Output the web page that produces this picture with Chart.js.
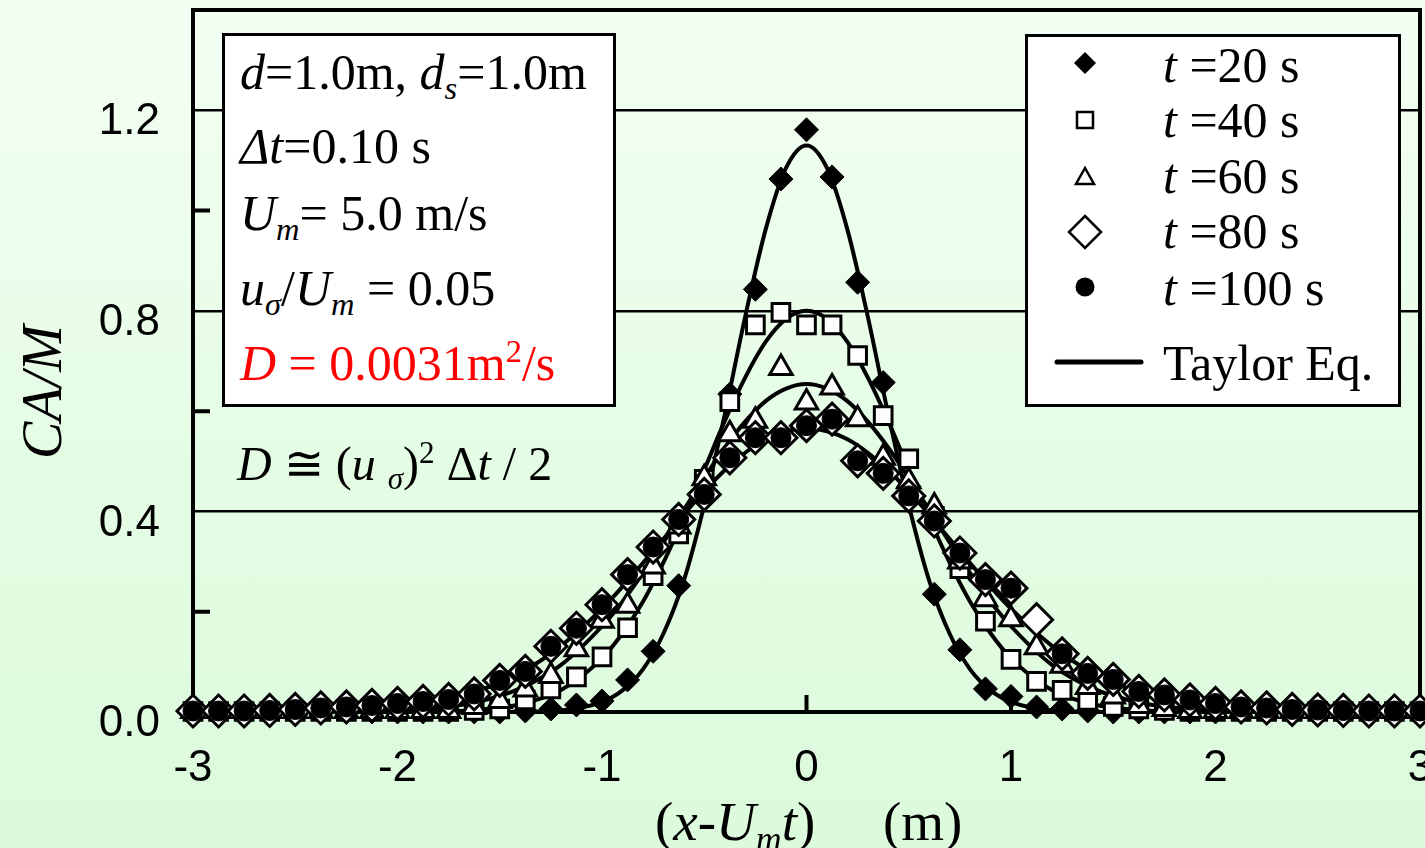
<!DOCTYPE html>
<html>
<head>
<meta charset="utf-8">
<script src="https://cdn.jsdelivr.net/npm/chart.js@4.4.1/dist/chart.umd.min.js"></script>
<style>
  html, body { margin: 0; padding: 0; }
  body {
    width: 1425px; height: 848px; overflow: hidden; position: relative;
    background: linear-gradient(to bottom, #f4fff4 0%, #e4fce4 55%, #dcfadc 100%);
    font-family: "Liberation Serif", "Times New Roman", serif;
  }
  #chart { position: absolute; left: 0; top: 0; }
  .box { position: absolute; background: #fff; border: 3px solid #000; box-sizing: border-box; }
  .t { position: absolute; font-size: 50px; line-height: 50px; white-space: nowrap; color: #000; }
  .t sub { font-size: 0.65em; line-height: 0; vertical-align: baseline; position: relative; top: 0.3em; }
  .t sup { font-size: 0.65em; line-height: 0; vertical-align: baseline; position: relative; top: -0.55em; }
  .red { color: #ff0000; }
  svg { position: absolute; }
</style>
</head>
<body>
<canvas id="chart" width="1425" height="848"></canvas>

<!-- parameter box -->
<div class="box" style="left:222px;top:33px;width:394px;height:374px;"></div>
<div class="t" style="left:240px;top:47px;"><i>d</i>=1.0m, <i>d<sub>s</sub></i>=1.0m</div>
<div class="t" style="left:240px;top:121px;"><i>Δt</i>=0.10 s</div>
<div class="t" style="left:240px;top:188px;"><i>U<sub>m</sub></i>= 5.0 m/s</div>
<div class="t" style="left:240px;top:263px;"><i>u<sub>σ</sub></i>/<i>U<sub>m</sub></i> = 0.05</div>
<div class="t red" style="left:240px;top:338px;"><i>D</i> = 0.0031m<sup>2</sup>/s</div>

<div class="t" style="left:237px;top:440px;font-size:48px;line-height:48px;"><i>D</i> ≅ (<i>u</i> <sub><i>σ</i></sub>)<sup>2</sup> Δ<i>t</i> / 2</div>

<!-- legend -->
<div class="box" style="left:1025px;top:34px;width:376px;height:373px;"></div>
<svg style="left:1025px;top:34px" width="376" height="373">
  <polygon points="60,18 71,29 60,40 49,29" fill="#000"/>
  <rect x="52" y="78" width="16" height="16" fill="#fff" stroke="#000" stroke-width="2.5"/>
  <polygon points="60,134 69,150 51,150" fill="#fff" stroke="#000" stroke-width="2.5"/>
  <polygon points="60,182 76,198 60,214 44,198" fill="#fff" stroke="#000" stroke-width="2.5"/>
  <circle cx="60" cy="253" r="9.5" fill="#000"/>
  <line x1="32" y1="328" x2="116" y2="328" stroke="#000" stroke-width="5" stroke-linecap="round"/>
</svg>
<div class="t" style="left:1163px;top:40px;"><i>t</i> =20 s</div>
<div class="t" style="left:1163px;top:95px;"><i>t</i> =40 s</div>
<div class="t" style="left:1163px;top:151px;"><i>t</i> =60 s</div>
<div class="t" style="left:1163px;top:206px;"><i>t</i> =80 s</div>
<div class="t" style="left:1163px;top:263px;"><i>t</i> =100 s</div>
<div class="t" style="left:1163px;top:338px;">Taylor Eq.</div>

<!-- x axis title -->
<div class="t" style="left:655px;top:794px;font-size:55px;line-height:55px;">(<i>x</i>-<i>U<sub>m</sub>t</i>)</div>
<div class="t" style="left:883px;top:794px;font-size:55px;line-height:55px;">(m)</div>

<script>
// measured positions (m)
const xPos = [-3, -2.875, -2.75, -2.625, -2.5, -2.375, -2.25, -2.125, -2, -1.875, -1.75, -1.625,
  -1.5, -1.375, -1.25, -1.125, -1, -0.875, -0.75, -0.625, -0.5, -0.375, -0.25, -0.125, 0,
  0.125, 0.25, 0.375, 0.5, 0.625, 0.75, 0.875, 1, 1.125, 1.25, 1.375, 1.5, 1.625, 1.75, 1.875,
  2, 2.125, 2.25, 2.375, 2.5, 2.625, 2.75, 2.875, 3];

// CA/M for each time
const t20 = [0, 0, 0, 0, 0, 0, 0, 0, 0, 0, 0, 0,
  0, 0.002, 0.006, 0.014, 0.022, 0.064, 0.121, 0.252, 0.44, 0.634, 0.843, 1.063, 1.161,
  1.067, 0.857, 0.657, 0.45, 0.235, 0.124, 0.046, 0.031, 0.010, 0.006, 0.002, 0, 0, 0, 0,
  0, 0, 0, 0, 0, 0, 0, 0, 0];
const t40 = [0.001, 0.001, 0.001, 0.001, 0.001, 0.001, 0.001, 0.001, 0.001, 0.001, 0.001, 0.003,
  0.006, 0.024, 0.046, 0.07, 0.11, 0.168, 0.272, 0.355, 0.464, 0.619, 0.772, 0.797, 0.772,
  0.772, 0.711, 0.591, 0.505, 0.39, 0.286, 0.181, 0.105, 0.061, 0.043, 0.023, 0.011, 0.006, 0.003, 0.001,
  0.001, 0.001, 0.001, 0.001, 0.001, 0.001, 0.001, 0.001, 0.001];
const t60 = [0.002, 0.002, 0.002, 0.002, 0.002, 0.002, 0.002, 0.002, 0.002, 0.002, 0.002, 0.01,
  0.022, 0.045, 0.072, 0.125, 0.182, 0.212, 0.29, 0.37, 0.466, 0.554, 0.581, 0.686, 0.617,
  0.647, 0.584, 0.507, 0.46, 0.41, 0.30, 0.225, 0.185, 0.129, 0.092, 0.05, 0.031, 0.012, 0.006, 0.002,
  0.002, 0.002, 0.002, 0.002, 0.002, 0.002, 0.002, 0.002, 0.002];
const t80 = [0.002, 0.002, 0.002, 0.003, 0.005, 0.008, 0.010, 0.013, 0.017, 0.021, 0.025, 0.036,
  0.063, 0.081, 0.131, 0.167, 0.214, 0.274, 0.329, 0.384, 0.434, 0.507, 0.547, 0.547, 0.571,
  0.584, 0.501, 0.476, 0.431, 0.381, 0.317, 0.264, 0.247, 0.184, 0.116, 0.077, 0.065, 0.041, 0.034, 0.024,
  0.017, 0.010, 0.008, 0.005, 0.004, 0.003, 0.002, 0.002, 0.002];
const t100 = [0.002, 0.002, 0.002, 0.003, 0.005, 0.008, 0.010, 0.013, 0.017, 0.021, 0.025, 0.036,
  0.063, 0.081, 0.131, 0.167, 0.214, 0.274, 0.329, 0.384, 0.434, 0.507, 0.547, 0.547, 0.571,
  0.584, 0.501, 0.476, 0.431, 0.381, 0.317, 0.264, 0.247, null, 0.116, 0.077, 0.065, 0.041, 0.034, 0.024,
  0.017, 0.010, 0.008, 0.005, 0.004, 0.003, 0.002, 0.002, 0.002];

// Taylor Eq. curves
const curveX = [-3, -2.5, -2.2, -2, -1.8, -1.6, -1.4, -1.2, -1, -0.9, -0.8, -0.7, -0.6, -0.5, -0.4,
  -0.3, -0.2, -0.1, 0, 0.1, 0.2, 0.3, 0.4, 0.5, 0.6, 0.7, 0.8, 0.9, 1, 1.2, 1.4, 1.6, 1.8, 2,
  2.2, 2.5, 3];
const taylor20 = [0, 0, 0, 0, 0, 0, 0.0004, 0.003, 0.020, 0.043, 0.085, 0.156, 0.262, 0.413, 0.593,
  0.788, 0.962, 1.085, 1.13, 1.085, 0.962, 0.788, 0.593, 0.413, 0.262, 0.156, 0.085, 0.043, 0.020, 0.003,
  0.0004, 0, 0, 0, 0, 0, 0];
const taylor40 = [0, 0, 0.0001, 0.0003, 0.0012, 0.0046, 0.0154, 0.044, 0.107, 0.157, 0.220, 0.298, 0.387, 0.483, 0.580,
  0.667, 0.738, 0.784, 0.80, 0.784, 0.738, 0.667, 0.580, 0.483, 0.387, 0.298, 0.220, 0.157, 0.107, 0.044,
  0.0154, 0.0046, 0.0012, 0.0003, 0.0001, 0, 0];
const taylor60 = [0, 0.0002, 0.001, 0.003, 0.0084, 0.021, 0.047, 0.094, 0.171, 0.220, 0.277, 0.338, 0.403, 0.467, 0.527,
  0.579, 0.620, 0.645, 0.654, 0.645, 0.620, 0.579, 0.527, 0.467, 0.403, 0.338, 0.277, 0.220, 0.171, 0.094,
  0.047, 0.021, 0.0084, 0.003, 0.001, 0.0002, 0];
const taylor80 = [0.0001, 0.001, 0.0043, 0.010, 0.0215, 0.043, 0.078, 0.132, 0.206, 0.250, 0.297, 0.345, 0.394, 0.440, 0.482,
  0.517, 0.544, 0.560, 0.566, 0.560, 0.544, 0.517, 0.482, 0.440, 0.394, 0.345, 0.297, 0.250, 0.206, 0.132,
  0.078, 0.043, 0.0215, 0.010, 0.0043, 0.001, 0.0001];

const xTicks = [-3, -2, -1, 0, 1, 2, 3];
const yLabelTicks = [0, 0.4, 0.8, 1.2];
const yGridTicks = [0.4, 0.8, 1.2];
const yMinorTicks = [0.2, 0.6, 1.0];

function pairs(xs, ys) {
  return xs.map((x, i) => ({ x: x, y: ys[i] })).filter(p => p.y !== null);
}
function near(v, list) {
  return list.some(t => Math.abs(t - v) < 1e-6);
}
// keep the plot box where the reference has it
function noPad(s) {
  s.paddingTop = 0; s.paddingBottom = 0; s.paddingLeft = 0; s.paddingRight = 0;
}

function markers(data, style, radius, fill, border, order) {
  return {
    data: data, pointStyle: style, pointRadius: radius, pointHoverRadius: radius,
    backgroundColor: fill, borderColor: '#000', pointBorderWidth: border,
    showLine: false, order: order, clip: false
  };
}
function curve(data) {
  return {
    data: data, showLine: true, pointRadius: 0, borderColor: '#000', borderWidth: 4,
    cubicInterpolationMode: 'monotone', order: 10, clip: false
  };
}

// frame, inner tick marks and y title
const frame = {
  id: 'frame',
  beforeDatasetsDraw(chart) {
    const { ctx, chartArea: a, scales: { x, y } } = chart;
    ctx.save();
    ctx.strokeStyle = '#000';
    ctx.lineWidth = 4;
    ctx.strokeRect(a.left, a.top, a.right - a.left, a.bottom - a.top);
    ctx.beginPath();
    yMinorTicks.forEach(v => {
      const py = y.getPixelForValue(v);
      ctx.moveTo(a.left, py); ctx.lineTo(a.left + 17, py);
    });
    xTicks.forEach(v => {
      const px = x.getPixelForValue(v);
      ctx.moveTo(px, a.bottom); ctx.lineTo(px, a.bottom - 17);
    });
    ctx.stroke();

    ctx.translate(61, 392);
    ctx.rotate(-Math.PI / 2);
    ctx.font = 'italic 56px "Liberation Serif"';
    ctx.fillStyle = '#000';
    ctx.textAlign = 'center';
    ctx.textBaseline = 'alphabetic';
    ctx.fillText('CA/M', 0, 0);
    ctx.restore();
  }
};

new Chart(document.getElementById('chart'), {
  type: 'scatter',
  data: {
    datasets: [
      markers(pairs(xPos, t20), 'rectRot', 12, '#000', 1, 5),
      markers(pairs(xPos, t40), 'rect', 12.5, '#fff', 3, 4),
      markers(pairs(xPos, t60), 'triangle', 13, '#fff', 3, 3),
      markers(pairs(xPos, t80), 'rectRot', 16, '#fff', 3, 2),
      markers(pairs(xPos, t100), 'circle', 10, '#000', 1, 1),
      curve(pairs(curveX, taylor20)),
      curve(pairs(curveX, taylor40)),
      curve(pairs(curveX, taylor60)),
      curve(pairs(curveX, taylor80))
    ]
  },
  options: {
    responsive: false,
    devicePixelRatio: 1,
    animation: false,
    layout: { padding: { top: 10, right: 5, left: 0, bottom: 0 }, autoPadding: false },
    plugins: { legend: { display: false }, tooltip: { enabled: false } },
    scales: {
      x: {
        type: 'linear', min: -3, max: 3,
        afterFit: s => { s.height = 136; noPad(s); },
        afterBuildTicks: s => { s.ticks = xTicks.map(v => ({ value: v })); },
        ticks: {
          autoSkip: false, maxRotation: 0, padding: 22, color: '#000',
          font: { family: '"Liberation Sans", Arial', size: 44 },
          callback: v => String(v)
        },
        grid: { display: false },
        border: { display: false }
      },
      y: {
        type: 'linear', min: 0, max: 1.4,
        afterFit: s => { s.width = 193; noPad(s); },
        ticks: {
          stepSize: 0.2, padding: 33, labelOffset: 12, color: '#000',
          font: { family: '"Liberation Sans", Arial', size: 44 },
          callback: v => near(v, yLabelTicks) ? v.toFixed(1) : ''
        },
        grid: {
          drawTicks: false, lineWidth: 2.5,
          color: c => (c.tick && near(c.tick.value, yGridTicks)) ? '#000' : 'rgba(0,0,0,0)'
        },
        border: { display: false }
      }
    }
  },
  plugins: [frame]
});
</script>
</body>
</html>
